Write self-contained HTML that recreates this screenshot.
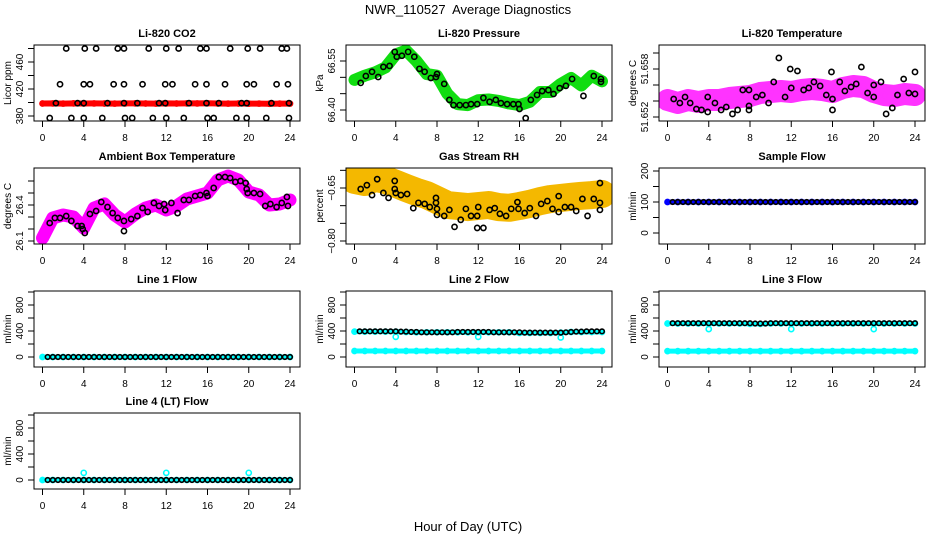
<!DOCTYPE html>
<html><head><meta charset="utf-8"><style>
html,body{margin:0;padding:0;background:#fff;}
svg{display:block;font-family:"Liberation Sans",sans-serif;}
</style></head><body>
<svg id="chart" width="936" height="540" viewBox="0 0 936 540" xmlns="http://www.w3.org/2000/svg">
<rect x="0" y="0" width="936" height="540" fill="#fff"/>
<text x="468" y="14" text-anchor="middle" font-size="13">NWR_110527&#160; Average Diagnostics</text>
<text x="468" y="531" text-anchor="middle" font-size="13">Hour of Day (UTC)</text>
</svg>
<script>
const hours = [0,1,2,3,4,5,6,7,8,9,10,11,12,13,14,15,16,17,18,19,20,21,22,23,24];
const halfHours = [0.5,1,1.5,2,2.5,3,3.5,4,4.5,5,5.5,6,6.5,7,7.5,8,8.5,9,9.5,10,10.5,11,11.5,12,12.5,13,13.5,14,14.5,15,15.5,16,16.5,17,17.5,18,18.5,19,19.5,20,20.5,21,21.5,22,22.5,23,23.5,24];
const xTickLabels = ['0','4','8','12','16','20','24'];
const xTickValues = [0,4,8,12,16,20,24];

// CO2
const co2Red = [398.5,398.6,398.4,398.7,398.5,398.6,398.5,398.4,398.6,398.7,398.5,398.4,398.6,398.5,398.7,398.6,398.8,398.5,398.4,398.5,398.3,398.4,398.2,398.3,398.4];
const co2TopHours = [2.3,4.1,5.2,7.3,7.9,10.3,12.0,13.2,15.3,15.9,18.2,19.9,21.1,23.2,23.7];
const co2TopVals = [480,480,480,480,480,480,480,480,480,480,480,480,480,480,480];
const co2MidHours = [1.7,4.0,4.6,6.9,7.9,9.7,11.9,12.6,14.8,15.9,17.7,19.8,20.5,22.7,23.8];
const co2MidVals = [427,427,427,427,427,427,427,427,427,427,427,427,427,427,427];
const co2LowHours = [0.7,2.8,4.0,5.8,8.0,8.7,10.7,12.0,13.7,16.0,16.6,18.8,19.8,21.7,23.9];
const co2LowVals = [377,377,377,377,377,377,377,377,377,377,377,377,377,377,377];
const co2BandHours = [1.3,3.4,4.0,6.3,7.9,9.2,11.3,11.9,14.2,15.9,17.1,19.3,19.8,22.2,23.9];
const co2BandVals = [399,399,399,399,399,399,399,399,399,399,399,399,399,399,399];

// Pressure
const presGreen = [66.492,66.505,66.515,66.53,66.57,66.582,66.55,66.51,66.505,66.45,66.418,66.415,66.43,66.432,66.428,66.42,66.415,66.425,66.455,66.455,66.48,66.498,66.475,66.505,66.488];
const presBlackHours = [0.6,1.1,1.7,2.3,2.8,3.4,3.9,4.1,4.6,5.2,5.8,6.3,6.8,7.4,7.9,8.0,8.7,9.2,9.6,10.2,10.8,11.3,11.9,12.5,13.1,13.7,14.2,14.8,15.4,15.9,16.0,16.6,17.1,17.7,18.2,18.8,19.3,19.9,20.5,21.1,22.2,23.2,23.9,23.9];
const presBlackVals = [66.483,66.504,66.517,66.501,66.532,66.535,66.578,66.563,66.566,66.578,66.563,66.526,66.517,66.498,66.501,66.510,66.480,66.431,66.415,66.415,66.415,66.418,66.418,66.437,66.425,66.431,66.421,66.418,66.418,66.418,66.403,66.375,66.431,66.446,66.458,66.461,66.449,66.467,66.474,66.495,66.443,66.504,66.486,66.495];

// Li-820 temperature
const tempMagenta = [51.65413,51.65375,51.65413,51.65388,51.65413,51.65413,51.65438,51.65450,51.65463,51.65500,51.65513,51.65525,51.65513,51.65538,51.65550,51.65538,51.65513,51.65563,51.65588,51.65575,51.65513,51.65475,51.65463,51.65488,51.65475];
const tempBlackHours = [0.6,1.2,1.7,2.2,2.8,3.3,3.9,3.9,4.6,5.2,5.7,6.3,6.8,7.3,7.9,7.9,7.9,8.6,9.2,9.8,10.3,10.8,11.4,11.9,12.0,12.6,13.2,13.7,14.2,14.8,15.4,15.9,16.0,16.0,16.7,17.2,17.8,18.3,18.8,19.4,20.0,20.0,20.7,21.2,21.8,22.3,22.9,23.4,24.0,24.0];
const tempBlackVals = [51.65425,51.65375,51.65450,51.65375,51.65300,51.65288,51.65450,51.65263,51.65375,51.65288,51.65325,51.65238,51.65288,51.65538,51.65538,51.65338,51.65288,51.65450,51.65475,51.65375,51.65638,51.65938,51.65450,51.65800,51.65563,51.65775,51.65538,51.65563,51.65638,51.65588,51.65475,51.65763,51.65425,51.65288,51.65638,51.65525,51.65575,51.65613,51.65825,51.65500,51.65600,51.65450,51.65638,51.65238,51.65313,51.65475,51.65675,51.65500,51.65763,51.65488];

// Ambient box temperature
const ambMagenta = [26.125,26.292,26.317,26.300,26.208,26.375,26.408,26.317,26.258,26.325,26.375,26.400,26.358,26.392,26.450,26.475,26.500,26.608,26.642,26.608,26.508,26.483,26.400,26.408,26.442];
const ambBlackHours = [0.7,1.2,1.7,2.3,2.8,3.4,3.8,3.9,4.1,4.6,5.2,5.7,6.3,6.8,7.3,7.9,7.9,8.6,9.2,9.7,10.2,10.8,11.3,11.8,11.9,12.5,13.1,13.7,14.2,14.8,15.3,15.9,16.0,16.6,17.1,17.7,18.2,18.7,19.2,19.7,19.8,19.9,20.5,21.1,21.6,22.1,22.7,23.2,23.7,23.8];
const ambBlackVals = [26.250,26.292,26.292,26.308,26.267,26.225,26.225,26.200,26.167,26.325,26.350,26.425,26.383,26.333,26.292,26.267,26.183,26.283,26.308,26.375,26.342,26.417,26.392,26.408,26.358,26.417,26.333,26.442,26.442,26.475,26.483,26.500,26.475,26.542,26.633,26.633,26.625,26.592,26.600,26.583,26.533,26.500,26.500,26.492,26.392,26.408,26.383,26.417,26.467,26.392];

// Gas stream RH
const rhOrange = [-0.627,-0.633,-0.621,-0.627,-0.638,-0.650,-0.661,-0.670,-0.684,-0.698,-0.701,-0.704,-0.701,-0.698,-0.704,-0.706,-0.701,-0.695,-0.687,-0.681,-0.678,-0.675,-0.672,-0.670,-0.667];
const rhBlackHours = [0.6,1.2,1.7,2.2,2.8,3.3,3.9,3.9,4.0,4.5,5.1,5.7,6.2,6.8,7.3,7.9,7.9,8.0,8.0,8.7,9.2,9.7,10.3,10.8,11.3,11.9,11.9,12.0,12.5,13.1,13.6,14.1,14.7,15.2,15.8,15.9,16.5,17.0,17.6,18.1,18.7,19.2,19.8,19.8,20.4,21.0,21.5,22.1,22.6,23.2,23.8,23.8,23.8];
const rhBlackVals = [-0.653,-0.642,-0.670,-0.625,-0.664,-0.678,-0.630,-0.653,-0.664,-0.670,-0.667,-0.707,-0.692,-0.695,-0.704,-0.678,-0.692,-0.709,-0.726,-0.729,-0.712,-0.760,-0.740,-0.709,-0.729,-0.729,-0.763,-0.704,-0.763,-0.712,-0.707,-0.723,-0.729,-0.709,-0.690,-0.709,-0.721,-0.707,-0.729,-0.695,-0.687,-0.709,-0.673,-0.718,-0.704,-0.704,-0.715,-0.681,-0.729,-0.681,-0.636,-0.692,-0.712];

// Flows
const sampleBlue = [100,100,100,100,100,100,100,100,100,100,100,100,100,100,100,100,100,100,100,100,100,100,100,100,100];
const sampleBlack = [100,100,100,100,100,100,100,100,100,100,100,100,100,100,100,100,100,100,100,100,100,100,100,100,100,100,100,100,100,100,100,100,100,100,100,100,100,100,100,100,100,100,100,100,100,100,100,100];
const line1Cyan = [0,0,0,0,0,0,0,0,0,0,0,0,0,0,0,0,0,0,0,0,0,0,0,0,0];
const line1Black = [0,0,0,0,0,0,0,0,0,0,0,0,0,0,0,0,0,0,0,0,0,0,0,0,0,0,0,0,0,0,0,0,0,0,0,0,0,0,0,0,0,0,0,0,0,0,0,0];
const line2CyanLow = [92,92,92,92,92,92,92,92,92,92,92,92,92,92,92,92,92,92,92,92,92,92,92,92,92];
const line2CyanHigh = [390,390,390,390,390,385,380,380,380,380,380,380,380,380,380,380,370,370,370,370,375,385,385,385,385];
const line2Black = [395,395,395,395,395,395,395,395,390,390,385,385,380,380,380,380,380,380,380,385,385,385,385,385,385,385,380,380,380,380,380,380,375,375,375,375,375,375,375,375,380,385,390,390,395,395,395,395];
const line3CyanLow = [90,90,90,90,90,90,90,90,90,90,90,90,90,90,90,90,90,90,90,90,90,90,90,90,90];
const line3CyanHigh = [515,515,515,515,515,515,515,515,510,510,515,515,515,515,515,515,515,515,515,515,515,515,515,515,515];
const line3Black = [520,520,520,520,520,520,520,520,520,520,520,520,520,520,520,520,515,515,515,520,520,520,520,520,520,520,520,520,520,520,520,520,520,520,520,520,520,520,520,520,520,520,520,520,520,520,520,520];
const line4Cyan = [0,0,0,0,0,0,0,0,0,0,0,0,0,0,0,0,0,0,0,0,0,0,0,0,0];
const line4Black = [0,0,0,0,0,0,0,0,0,0,0,0,0,0,0,0,0,0,0,0,0,0,0,0,0,0,0,0,0,0,0,0,0,0,0,0,0,0,0,0,0,0,0,0,0,0,0,0];
const dipHours = [4,12,20];
const line2Dips = [310,310,300];
const line3Dips = [430,430,430];
const line4Bumps = [110,110,110];

const svg = document.getElementById('chart');
const NS = 'http://www.w3.org/2000/svg';

function mk(tag, attrs, name, parent) {
  const el = document.createElementNS(NS, tag);
  for (const k in attrs) el.setAttribute(k, attrs[k]);
  
  
  (parent || svg).appendChild(el);
  return el;
}

function makePanel(cfg) {
  const L = cfg.L, T = cfg.T, B = T + 76, R = L + 266;
  const xa = L + 8.5, xb = L + 256;
  const g = mk('g', {}, cfg.name);
  const xs = h => xa + (xb - xa) * h / 24;
  const ys = v => cfg.p0 + (v - cfg.v0) * (cfg.p1 - cfg.p0) / (cfg.v1 - cfg.v0);
  const clipId = 'clip-' + cfg.name;
  const defs = mk('defs', {}, cfg.name + '-defs', g);
  const cp = mk('clipPath', {id: clipId}, cfg.name + '-clip', defs);
  mk('rect', {x: L, y: T, width: R - L, height: B - T}, cfg.name + '-clip-rect', cp);
  const dg = mk('g', {'clip-path': 'url(#' + clipId + ')'}, cfg.name + '-data', g);
  mk('rect', {x: L, y: T, width: R - L, height: B - T, fill: 'none', stroke: '#000', 'stroke-width': 1}, cfg.name + '-frame', g);
  const t = mk('text', {x: (L + R) / 2, y: T - 8, 'text-anchor': 'middle', 'font-size': 11, 'font-weight': 'bold'}, cfg.name + '-title', g);
  t.textContent = cfg.title;
  xTickValues.forEach((v, i) => {
    const x = xs(v);
    mk('line', {x1: x, y1: B, x2: x, y2: B + 6, stroke: '#000'}, cfg.name + '-x-tick', g);
    const tl = mk('text', {x: x, y: B + 20, 'text-anchor': 'middle', 'font-size': 10}, cfg.name + '-x-tick-label', g);
    tl.textContent = xTickLabels[i];
  });
  cfg.ticks.forEach((v, i) => {
    const y = ys(v);
    mk('line', {x1: L, y1: y, x2: L - 6, y2: y, stroke: '#000'}, cfg.name + '-y-tick', g);
    if (cfg.labels[i]) {
      const tl = mk('text', {x: 0, y: 0, transform: 'translate(' + (L - 11) + ',' + y + ') rotate(-90)', 'text-anchor': 'middle', 'font-size': 10}, cfg.name + '-y-tick-label', g);
      tl.textContent = cfg.labels[i];
    }
  });
  const ylab = mk('text', {x: 0, y: 0, transform: 'translate(' + (L - 23) + ',' + ((T + B) / 2) + ') rotate(-90)', 'text-anchor': 'middle', 'font-size': 10}, cfg.name + '-y-axis-title', g);
  ylab.textContent = cfg.ylab;
  return {dg, xs, ys};
}

function band(p, hs, vals, color, width, name) {
  const pts = hs.map((h, i) => p.xs(h).toFixed(1) + ',' + p.ys(vals[i]).toFixed(1)).join(' ');
  mk('polyline', {points: pts, fill: 'none', stroke: color, 'stroke-width': width, 'stroke-linejoin': 'round', 'stroke-linecap': 'round'}, name, p.dg);
  hs.forEach((h, i) => {
    mk('circle', {cx: p.xs(h), cy: p.ys(vals[i]), r: 2.6, fill: 'none', stroke: color, 'stroke-width': 1.5}, name + '-point', p.dg);
  });
}
function pts(p, hs, vals, color, name, r) {
  hs.forEach((h, i) => {
    mk('circle', {cx: p.xs(h), cy: p.ys(vals[i]), r: r || 2.6, fill: 'none', stroke: color, 'stroke-width': 1.6}, name, p.dg);
  });
}

let p = makePanel({name: 'co2-panel', title: 'Li-820 CO2', ylab: 'Licor ppm', L: 34, T: 45, v0: 380, p0: 116, v1: 460, p1: 62, ticks: [380,400,420,440,460,480], labels: ['380','','420','','460','']});
band(p, hours, co2Red, '#ff0000', 6, 'co2-red-series');
pts(p, co2TopHours, co2TopVals, '#000', 'co2-point-high');
pts(p, co2MidHours, co2MidVals, '#000', 'co2-point-mid');
pts(p, co2LowHours, co2LowVals, '#000', 'co2-point-low');
pts(p, co2BandHours, co2BandVals, '#000', 'co2-point-band');

p = makePanel({name: 'pressure-panel', title: 'Li-820 Pressure', ylab: 'kPa', L: 346, T: 45, v0: 66.40, p0: 110, v1: 66.55, p1: 61, ticks: [66.40,66.45,66.50,66.55], labels: ['66.40','','','66.55']});
band(p, hours, presGreen, '#11dd11', 12, 'pressure-green-series');
pts(p, presBlackHours, presBlackVals, '#000', 'pressure-black-point');

p = makePanel({name: 'li820-temp-panel', title: 'Li-820 Temperature', ylab: 'degrees C', L: 659, T: 45, v0: 51.652, p0: 117, v1: 51.658, p1: 69, ticks: [51.652,51.654,51.656,51.658,51.660], labels: ['51.652','','','51.658','']});
band(p, hours, tempMagenta, '#ff33ff', 22, 'li820-temp-magenta-series');
pts(p, tempBlackHours, tempBlackVals, '#000', 'li820-temp-black-point');

p = makePanel({name: 'ambient-temp-panel', title: 'Ambient Box Temperature', ylab: 'degrees C', L: 34, T: 168, v0: 26.1, p0: 241, v1: 26.4, p1: 205, ticks: [26.1,26.2,26.3,26.4,26.5,26.6], labels: ['26.1','','','26.4','','']});
band(p, hours, ambMagenta, '#ff00ff', 13, 'ambient-magenta-series');
pts(p, ambBlackHours, ambBlackVals, '#000', 'ambient-black-point');

p = makePanel({name: 'rh-panel', title: 'Gas Stream RH', ylab: 'percent', L: 346, T: 168, v0: -0.80, p0: 241, v1: -0.65, p1: 188, ticks: [-0.80,-0.75,-0.70,-0.65,-0.60], labels: ['\u22120.80','','','\u22120.65','']});
band(p, hours, rhOrange, '#f4b800', 28, 'rh-orange-series');
pts(p, rhBlackHours, rhBlackVals, '#000', 'rh-black-point');

p = makePanel({name: 'sample-flow-panel', title: 'Sample Flow', ylab: 'ml/min', L: 659, T: 168, v0: 0, p0: 233, v1: 200, p1: 171, ticks: [0,50,100,150,200], labels: ['0','','100','','200']});
band(p, hours, sampleBlue, '#0000ff', 5, 'sample-flow-blue-series');
pts(p, halfHours, sampleBlack, '#000', 'sample-flow-black-point', 2.3);

const flowTicks = [0,200,400,600,800,1000];
const flowLabels = ['0','','400','','800',''];
p = makePanel({name: 'line1-flow-panel', title: 'Line 1 Flow', ylab: 'ml/min', L: 34, T: 291, v0: 0, p0: 357, v1: 800, p1: 305, ticks: flowTicks, labels: flowLabels});
band(p, hours, line1Cyan, '#00ffff', 5, 'line1-cyan-series');
pts(p, halfHours, line1Black, '#000', 'line1-black-point', 2.3);

p = makePanel({name: 'line2-flow-panel', title: 'Line 2 Flow', ylab: 'ml/min', L: 346, T: 291, v0: 0, p0: 357, v1: 800, p1: 305, ticks: flowTicks, labels: flowLabels});
band(p, hours, line2CyanLow, '#00ffff', 5, 'line2-cyan-low-series');
band(p, hours, line2CyanHigh, '#00ffff', 5, 'line2-cyan-high-series');
pts(p, dipHours, line2Dips, '#00ffff', 'line2-cyan-dip');
pts(p, halfHours, line2Black, '#000', 'line2-black-point', 2.3);

p = makePanel({name: 'line3-flow-panel', title: 'Line 3 Flow', ylab: 'ml/min', L: 659, T: 291, v0: 0, p0: 357, v1: 800, p1: 305, ticks: flowTicks, labels: flowLabels});
band(p, hours, line3CyanLow, '#00ffff', 5, 'line3-cyan-low-series');
band(p, hours, line3CyanHigh, '#00ffff', 5, 'line3-cyan-high-series');
pts(p, dipHours, line3Dips, '#00ffff', 'line3-cyan-dip');
pts(p, halfHours, line3Black, '#000', 'line3-black-point', 2.3);

p = makePanel({name: 'line4-flow-panel', title: 'Line 4 (LT) Flow', ylab: 'ml/min', L: 34, T: 413, v0: 0, p0: 480, v1: 800, p1: 428, ticks: flowTicks, labels: flowLabels});
band(p, hours, line4Cyan, '#00ffff', 5, 'line4-cyan-series');
pts(p, dipHours, line4Bumps, '#00ffff', 'line4-cyan-bump');
pts(p, halfHours, line4Black, '#000', 'line4-black-point', 2.3);
</script>
</body></html>
